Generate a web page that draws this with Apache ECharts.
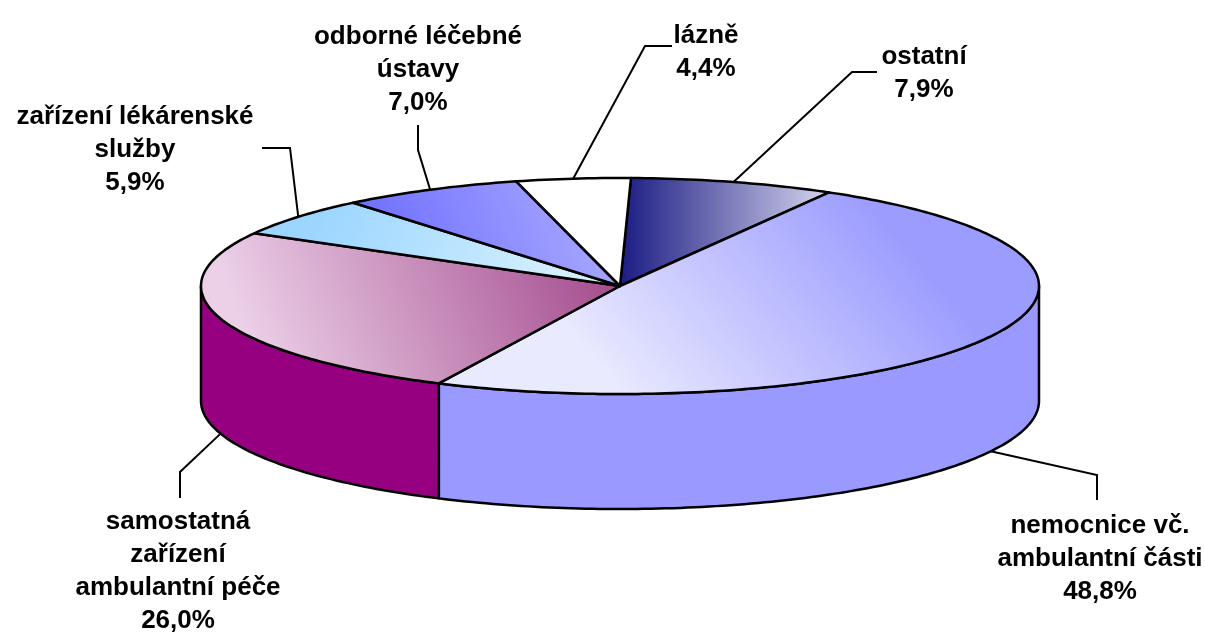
<!DOCTYPE html>
<html><head><meta charset="utf-8">
<script src="https://cdn.jsdelivr.net/npm/echarts@6/dist/echarts.min.js"></script>
<style>html,body{margin:0;padding:0;background:#fff}#c{width:1205px;height:634px}</style>
</head><body><div id="c"></div>
<script>
// ---- data ----
const categories = ['ostatní', 'nemocnice vč.\nambulantní části', 'samostatná\nzařízení\nambulantní péče', 'zařízení lékárenské\nslužby', 'odborné léčebné\nústavy', 'lázně'];
const values = [7.9, 48.8, 26.0, 5.9, 7.0, 4.4];

// ---- layout / style ----
const CX = 620, CY = 286, RX = 419, RY = 108, DEPTH = 115, START_ANGLE = 1.5;
const labelLayout = [
  { x: 924, y: 73.5, end: [877, 72], elbow: [852, 72] },
  { x: 1100, y: 559, end: [1097, 500], elbow: [1097, 475] },
  { x: 178, y: 571.5, end: [180, 498], elbow: [180, 472] },
  { x: 135, y: 150, end: [262, 148], elbow: [290, 148] },
  { x: 418, y: 70, end: [418, 125], elbow: [418, 150] },
  { x: 706, y: 52, end: [672, 46], elbow: [645, 46] }
];
const G = (x0, y0, x1, y1, c0, c1) => new echarts.graphic.LinearGradient(x0, y0, x1, y1, [{ offset: 0, color: c0 }, { offset: 1, color: c1 }]);
const topFills = [
  G(0, 0, 1, 0, '#1a1a82', '#d6d6ee'),
  G(0.3, 1, 0.7, 0, '#eaeaff', '#9c9cff'),
  G(1, 0.1, 0.15, 1, '#a1468a', '#ecd0e8'),
  G(0.2, 0, 0.8, 1, '#9cd6ff', '#d2eeff'),
  G(1, 0, 0, 1, '#b0b0ff', '#6666ff'),
  '#ffffff'
];
const sideFills = ['#1c1c82', '#9999ff', '#960080', '#a0d8ff', '#8080ff', '#ffffff'];
const FONT = 'bold 26px "Liberation Sans", Arial, sans-serif';
const LW = 2.5;

const total = values.reduce((a, b) => a + b, 0);
const starts = [];
let acc = START_ANGLE;
values.forEach(v => { starts.push(acc); acc += v / total * 360; });

function pt(deg, dy) {
  const r = deg * Math.PI / 180;
  return [CX + RX * Math.sin(r), CY - RY * Math.cos(r) + (dy || 0)];
}
function arc(a0, a1, dy) {
  const n = Math.max(2, Math.ceil(Math.abs(a1 - a0)));
  const pts = [];
  for (let k = 0; k <= n; k++) pts.push(pt(a0 + (a1 - a0) * k / n, dy));
  return pts;
}
const fmt = v => v.toFixed(1).replace('.', ',') + '%';

function renderItem(params, api) {
  const i = params.dataIndex;
  const v = api.value(0);
  const a0 = starts[i], a1 = a0 + v / total * 360;
  const children = [];
  const s = Math.max(a0, 90), e = Math.min(a1, 270);
  if (e > s) {
    children.push({
      type: 'polygon',
      shape: { points: arc(s, e, 0).concat(arc(e, s, DEPTH)) },
      style: { fill: sideFills[i], stroke: '#000', lineWidth: LW, lineJoin: 'round' }
    });
  }
  children.push({
    type: 'polygon',
    shape: { points: [[CX, CY]].concat(arc(a0, a1, 0)) },
    style: { fill: topFills[i], stroke: '#000', lineWidth: LW, lineJoin: 'round' }
  });
  const mid = (a0 + a1) / 2;
  const front = Math.cos(mid * Math.PI / 180) < 0;
  const anchor = pt(mid, front ? DEPTH : 0);
  const L = labelLayout[i];
  children.push({
    type: 'polyline',
    shape: { points: [anchor, L.elbow, L.end] },
    style: { fill: null, stroke: '#000', lineWidth: 2 }
  });
  children.push({
    type: 'text',
    style: {
      text: categories[i] + '\n' + fmt(v),
      x: L.x, y: L.y, align: 'center', verticalAlign: 'middle',
      font: FONT, fill: '#000', lineHeight: 33
    }
  });
  return { type: 'group', children };
}

const chart = echarts.init(document.getElementById('c'), null, { renderer: 'canvas' });
chart.setOption({
  backgroundColor: '#ffffff',
  animation: false,
  series: [{
    type: 'custom',
    coordinateSystem: 'none',
    renderItem,
    data: values.map(v => [v])
  }]
});
</script></body></html>
